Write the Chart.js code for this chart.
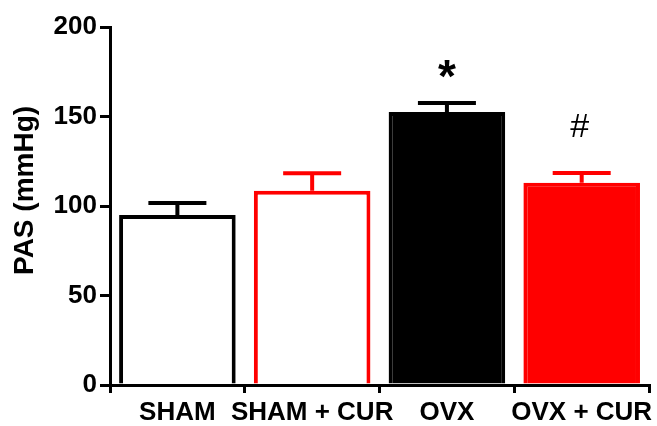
<!DOCTYPE html>
<html>
<head>
<meta charset="utf-8">
<script src="https://cdn.jsdelivr.net/npm/chart.js@4.4.0/dist/chart.umd.min.js"></script>
<style>
  html,body{margin:0;padding:0;background:#fff;}
  #wrap{width:657px;height:426px;position:relative;}
</style>
</head>
<body>
<div id="wrap"><canvas id="c"></canvas></div>
<script>
// data
const groups = ["SHAM", "SHAM + CUR", "OVX", "OVX + CUR"];
const means = [95, 108.5, 152.5, 113];
const errTop = [101.7, 118.3, 157.5, 118.5];
const marks = ["", "", "*", "#"];
const yTicks = [0, 50, 100, 150, 200];

const fills = ["#ffffff", "#ffffff", "#000000", "#ff0000"];
const edges = ["#000000", "#ff0000", "#000000", "#ff0000"];
const FONT = "'Liberation Sans', Arial, sans-serif";

// error bars (upper only) + significance marks
const errPlugin = {
  id: "errbars",
  afterDatasetsDraw(chart){
    const ctx = chart.ctx;
    const y = chart.scales.y;
    const meta = chart.getDatasetMeta(0);
    meta.data.forEach((bar, i)=>{
      const top = y.getPixelForValue(errTop[i]);
      const base = y.getPixelForValue(means[i]);
      ctx.save();
      ctx.strokeStyle = edges[i];
      ctx.lineWidth = 4;
      ctx.beginPath();
      ctx.moveTo(bar.x, base);
      ctx.lineTo(bar.x, top);
      ctx.moveTo(bar.x - 29, top);
      ctx.lineTo(bar.x + 29, top);
      ctx.stroke();
      if(marks[i]){
        ctx.fillStyle = "#000";
        ctx.textAlign = "center";
        ctx.textBaseline = "middle";
        if(marks[i] === "*"){
          ctx.font = "bold 46px " + FONT;
          ctx.fillText(marks[i], bar.x, top - 24);
        } else {
          ctx.font = "34px " + FONT;
          ctx.fillText(marks[i], bar.x - 2, top - 45);
        }
      }
      ctx.restore();
    });
  }
};

new Chart(document.getElementById("c"), {
  type: "bar",
  data: {
    labels: groups,
    datasets: [{
      data: means,
      backgroundColor: fills,
      borderColor: edges,
      borderWidth: 4,
      categoryPercentage: 1,
      barPercentage: 0.865
    }]
  },
  options: {
    responsive: true,
    maintainAspectRatio: false,
    animation: false,
    layout: {padding: {top: 27, right: 7, left: 0, bottom: 0}},
    plugins: {legend: {display: false}, tooltip: {enabled: false}},
    scales: {
      x: {
        grid: {display: true, drawOnChartArea: false, drawTicks: true, tickLength: 8, lineWidth: 3, color: "#000"},
        border: {display: true, color: "#000", width: 3},
        ticks: {color: "#000", font: {family: FONT, size: 26, weight: "bold"}, padding: 4, maxRotation: 0, autoSkip: false},
        afterFit(s){ s.height = 41; }
      },
      y: {
        min: 0, max: 200,
        afterBuildTicks(s){ s.ticks = yTicks.map(v=>({value: v})); },
        grid: {display: true, drawOnChartArea: false, drawTicks: true, tickLength: 10, lineWidth: 3, color: "#000"},
        border: {display: true, color: "#000", width: 3},
        ticks: {color: "#000", font: {family: FONT, size: 26, weight: "bold"}, padding: 3},
        // leading spaces nudge the rotated title upward like in the figure
        title: {display: true, text: "    PAS (mmHg)", color: "#000", font: {family: FONT, size: 28, weight: "bold"}, padding: {top: 8, bottom: 0}},
        afterFit(s){ s.width = 110; }
      }
    }
  },
  plugins: [errPlugin]
});
</script>
</body>
</html>
